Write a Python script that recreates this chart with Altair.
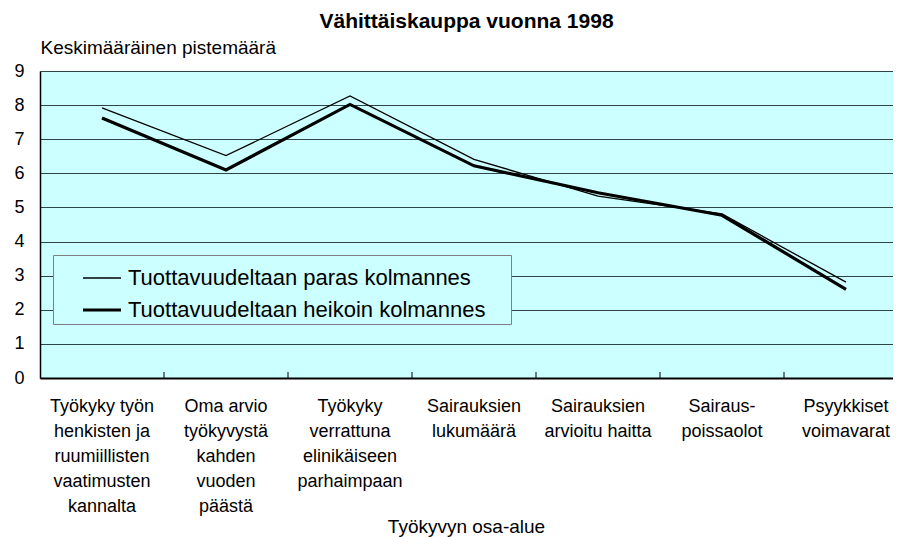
import altair as alt
import pandas as pd

categories = [
    "Työkyky työn|henkisten ja|ruumiillisten|vaatimusten|kannalta",
    "Oma arvio|työkyvystä|kahden|vuoden|päästä",
    "Työkyky|verrattuna|elinikäiseen|parhaimpaan",
    "Sairauksien|lukumäärä",
    "Sairauksien|arvioitu haitta",
    "Sairaus-|poissaolot",
    "Psyykkiset|voimavarat",
]
series_names = ["Tuottavuudeltaan paras kolmannes", "Tuottavuudeltaan heikoin kolmannes"]
paras = [7.92, 6.52, 8.27, 6.41, 5.33, 4.81, 2.81]
heikoin = [7.62, 6.10, 8.02, 6.22, 5.43, 4.77, 2.60]
y_ticks = [0, 1, 2, 3, 4, 5, 6, 7, 8, 9]

rows = []
for c, a, b in zip(categories, paras, heikoin):
    rows.append({"cat": c, "series": series_names[0], "value": a})
    rows.append({"cat": c, "series": series_names[1], "value": b})
df = pd.DataFrame(rows)
tick_df = pd.DataFrame({"cat": categories[1:]})

FONT = "Liberation Sans"
W, H = 853, 307

xscale = alt.Scale(type="band", paddingInner=0, paddingOuter=0, range=[0, 868])

lines = alt.Chart(df).mark_line(color="black").encode(
    x=alt.X(
        "cat:N", sort=categories, scale=xscale, bandPosition=0.5,
        axis=alt.Axis(
            title="Työkyvyn osa-alue",
            labelExpr="split(datum.label, '|')",
            labelAngle=0, labelAlign="center", labelFontSize=18, labelFont=FONT,
            labelColor="black",
            labelLineHeight=25, labelPadding=19, labelBaseline="top",
            labelLimit=0, ticks=False, domainColor="black", domainWidth=2,
            titleFontSize=19, titleFont=FONT, titleFontWeight="normal",
            titleColor="black", titleY=148, titleX=426, titleBaseline="middle",
            grid=False,
        ),
    ),
    y=alt.Y(
        "value:Q",
        scale=alt.Scale(domain=[0, 9], nice=False),
        axis=alt.Axis(
            values=y_ticks, title="Keskimääräinen pistemäärä",
            titleAngle=0, titleAlign="left", titleBaseline="middle",
            titleX=0, titleY=-24, titleFontSize=19, titleFont=FONT,
            titleFontWeight="normal", titleColor="black",
            grid=True, gridColor="#2f4444", gridWidth=1,
            domainColor="black", domainWidth=1.5, ticks=False,
            labelFontSize=18, labelFont=FONT, labelColor="black", labelPadding=16,
        ),
    ),
    strokeWidth=alt.StrokeWidth(
        "series:N",
        scale=alt.Scale(domain=series_names, range=[1.3, 3.2]),
        legend=alt.Legend(
            orient="none", legendX=13, legendY=184, title=None,
            fillColor="#CCFFFF", strokeColor="#7f7f7f", padding=3,
            labelFontSize=22, labelFont=FONT, labelColor="black",
            symbolType="stroke", symbolSize=1444, symbolStrokeColor="black",
            symbolOffset=25,
            rowPadding=0, labelOffset=5, labelLimit=800,
            labelExpr="datum.label + '\\u2003\\u200b'",
        ),
    ),
)

ticks = alt.Chart(tick_df).mark_rule(color="black", strokeWidth=1).encode(
    x=alt.X("cat:N", sort=categories, scale=xscale, bandPosition=0),
    y=alt.value(H - 6),
    y2=alt.value(H),
)

chart = alt.layer(ticks, lines).properties(
    width=W, height=H,
    title=alt.TitleParams(
        "Vähittäiskauppa vuonna 1998", fontSize=21, fontWeight="bold",
        font=FONT, color="black", anchor="middle", offset=6,
    ),
    autosize=alt.AutoSizeParams(type="none"),
    padding={"left": 32, "top": 63, "right": 0, "bottom": 160},
).configure_view(fill="#CCFFFF", stroke=None)

chart.save("out.html", embed_options={"renderer": "svg", "actions": False})
